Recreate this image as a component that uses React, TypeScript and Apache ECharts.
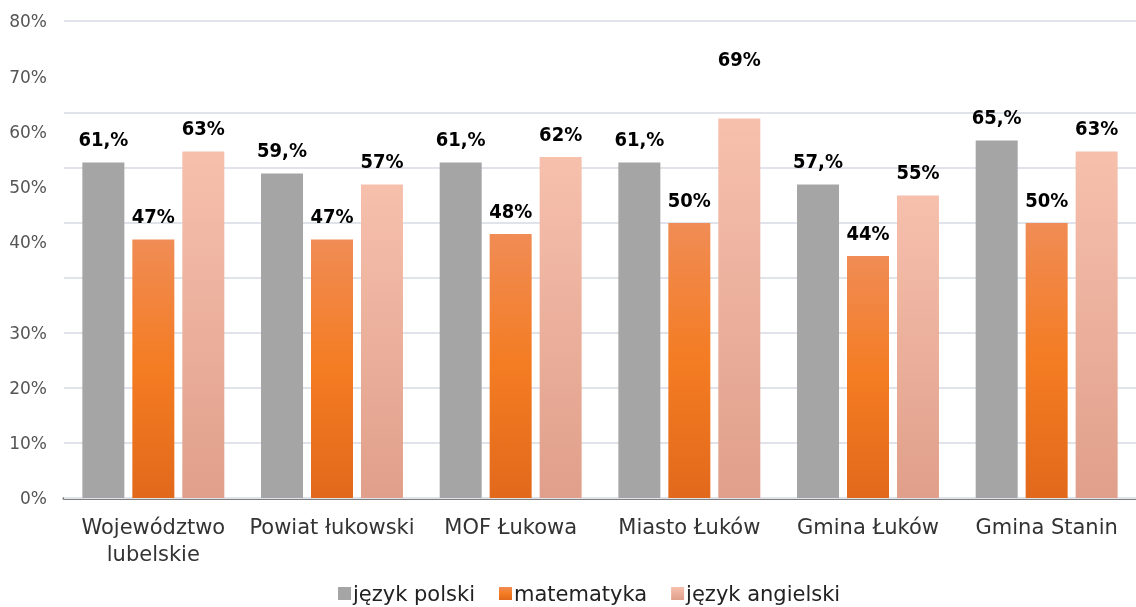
import React, { useEffect, useRef } from "react";
import * as echarts from "echarts";

const categories = ["Województwo\nlubelskie", "Powiat łukowski", "MOF Łukowa", "Miasto Łuków", "Gmina Łuków", "Gmina Stanin"];
const polski = [61, 59, 61, 61, 57, 65];
const matematyka = [47, 47, 48, 50, 44, 50];
const angielski = [63, 57, 62, 69, 55, 63];
// y-axis tick labels as printed on the reference, with the axis value at which each is drawn
const yTickLabels = ["0%", "10%", "20%", "30%", "40%", "50%", "60%", "70%", "80%"];
const yTickPositions = [0, 10, 20, 30, 46.5, 56.5, 66.5, 76.5, 86.7];
const gridValues = [0, 10, 20, 30, 40, 50, 60, 70, 86.7];
const yMax = 86.7;

export default function App() {
  const ref = useRef<HTMLDivElement>(null);
  useEffect(() => {
    if (!ref.current) return;
    const chart = echarts.init(ref.current, null, { renderer: "svg" });
    const labelFont = {
      fontFamily: "'DejaVu Sans Condensed', 'DejaVu Sans', sans-serif",
      fontWeight: "bold" as const,
      fontSize: 20,
      color: "#000000",
    };
    const mkSeries = (name: string, data: number[], color: any, fmt: (v: number) => string, extra: any = {}) => ({
      name,
      type: "bar",
      z: 3,
      barWidth: 42,
      barGap: "19%",
      data: data.map((v, i) => {
        const item: any = { value: v };
        if (extra.offsets && extra.offsets[i]) item.label = { offset: [0, extra.offsets[i]] };
        return item;
      }),
      itemStyle: { color },
      label: {
        show: true,
        position: "top",
        distance: 13,
        formatter: (p: any) => fmt(p.value),
        ...labelFont,
      },
      ...(extra.markLine ? { markLine: extra.markLine } : {}),
    });
    const orange = new echarts.graphic.LinearGradient(0, 0, 0, 1, [
      { offset: 0, color: "#f08c55" },
      { offset: 0.5, color: "#f47c22" },
      { offset: 1, color: "#e2691b" },
    ]);
    const peach = new echarts.graphic.LinearGradient(0, 0, 0, 1, [
      { offset: 0, color: "#f6c0ad" },
      { offset: 1, color: "#e09f8a" },
    ]);
    chart.setOption({
      animation: false,
      grid: { left: 64, right: 0, top: 21, bottom: 109, containLabel: false },
      legend: {
        bottom: -2,
        left: 333,
        icon: "rect",
        itemWidth: 13,
        itemHeight: 13,
        itemGap: 24,
        textStyle: { fontFamily: "'DejaVu Sans', sans-serif", fontSize: 21, color: "#222222", padding: [0, 0, 0, -3] },
        data: ["język polski", "matematyka", "język angielski"],
      },
      xAxis: {
        type: "category",
        data: categories,
        axisTick: { show: false },
        axisLine: { lineStyle: { color: "#7f7f7f", width: 3 } },
        axisLabel: {
          fontFamily: "'DejaVu Sans', sans-serif",
          fontSize: 21,
          color: "#333333",
          margin: 15,
          lineHeight: 27,
          interval: 0,
        },
      },
      yAxis: {
        type: "value",
        min: 0,
        max: yMax,
        interval: 0.1,
        splitLine: { show: false },
        axisLine: { show: false },
        axisTick: { show: false },
        axisLabel: {
          showMinLabel: true,
          showMaxLabel: true,
          margin: 17,
          fontFamily: "'DejaVu Sans', sans-serif",
          fontSize: 17,
          color: "#555555",
          formatter: (v: number) => {
            const i = yTickPositions.findIndex((p) => Math.abs(p - v) < 0.04);
            return i >= 0 ? yTickLabels[i] : "";
          },
        },
      },
      series: [
        mkSeries("język polski", polski, "#a5a5a5", (v) => `${v},%`, {
          markLine: {
            silent: true,
            z: 1,
            symbol: "none",
            label: { show: false },
            lineStyle: { color: "#e0e4ea", width: 2, type: "solid" },
            data: gridValues.map((g) => ({ yAxis: g })),
          },
        }),
        mkSeries("matematyka", matematyka, orange, (v) => `${v}%`),
        mkSeries("język angielski", angielski, peach, (v) => `${v}%`, { offsets: [0, 0, 0, -36, 0, 0] }),
      ],
    });
    return () => chart.dispose();
  }, []);
  return <div ref={ref} style={{ position: "fixed", left: 0, top: 0, width: 1136, height: 607 }} />;
}
